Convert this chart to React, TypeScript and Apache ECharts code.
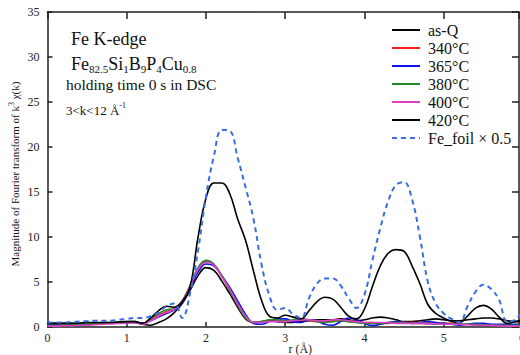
import React, { useEffect, useRef } from "react";
import * as echarts from "echarts";

const rValues = Array.from({ length: 61 }, (_, i) => +(i / 10).toFixed(1));

const asQ = [0.4, 0.4, 0.4, 0.4, 0.35, 0.35, 0.4, 0.45, 0.5, 0.5, 0.5, 0.5, 0.3, 0.2, 0.5, 0.9, 1.6, 2.6, 4.1, 5.7, 6.6, 6.3, 5.1, 3.7, 2.2, 0.9, 0.5, 0.6, 0.7, 0.6, 0.5, 0.5, 0.6, 0.7, 0.8, 0.8, 0.8, 0.9, 0.8, 0.7, 0.8, 1.0, 1.1, 1.0, 0.8, 0.6, 0.6, 0.7, 0.8, 0.9, 0.8, 0.7, 0.7, 0.8, 0.9, 1.0, 1.0, 0.9, 0.7, 0.6, 0.6];
const t340 = [0.15, 0.15, 0.2, 0.2, 0.25, 0.3, 0.35, 0.4, 0.45, 0.5, 0.55, 0.6, 0.35, 0.8, 1.3, 1.7, 2.0, 2.9, 4.6, 6.5, 7.3, 6.9, 5.6, 4.1, 2.5, 1.1, 0.5, 0.6, 0.7, 0.7, 0.6, 0.7, 0.8, 0.7, 0.6, 0.6, 0.7, 0.7, 0.6, 0.5, 0.5, 0.5, 0.4, 0.4, 0.5, 0.5, 0.5, 0.5, 0.4, 0.4, 0.4, 0.4, 0.35, 0.3, 0.3, 0.3, 0.25, 0.2, 0.2, 0.15, 0.1];
const t365 = [0.3, 0.3, 0.3, 0.3, 0.3, 0.35, 0.4, 0.45, 0.45, 0.5, 0.5, 0.5, 0.4, 0.7, 1.1, 1.5, 1.9, 2.7, 4.3, 6.1, 7.0, 6.8, 5.7, 4.4, 2.9, 1.4, 0.4, 0.3, 0.6, 0.9, 0.9, 0.6, 0.5, 0.8, 0.7, 0.3, 0.2, 0.6, 1.0, 0.8, 0.4, 0.15, 0.3, 0.5, 0.6, 0.5, 0.4, 0.5, 0.6, 0.5, 0.4, 0.3, 0.2, 0.3, 0.4, 0.4, 0.3, 0.3, 0.3, 0.3, 0.3];
const t380 = [0.2, 0.2, 0.25, 0.3, 0.3, 0.35, 0.4, 0.45, 0.5, 0.55, 0.6, 0.6, 0.4, 0.9, 1.5, 1.9, 2.1, 2.9, 4.6, 6.6, 7.4, 7.0, 5.7, 4.1, 2.4, 1.0, 0.5, 0.6, 0.8, 0.8, 0.7, 0.8, 0.9, 0.8, 0.6, 0.5, 0.6, 0.7, 0.6, 0.5, 0.4, 0.4, 0.4, 0.5, 0.5, 0.5, 0.4, 0.4, 0.4, 0.3, 0.3, 0.3, 0.3, 0.3, 0.3, 0.25, 0.2, 0.2, 0.2, 0.2, 0.2];
const t400 = [0.1, 0.1, 0.15, 0.15, 0.2, 0.2, 0.25, 0.3, 0.35, 0.4, 0.45, 0.5, 0.3, 0.7, 1.2, 1.6, 2.0, 2.8, 4.5, 6.4, 7.2, 6.9, 5.6, 4.2, 2.6, 1.2, 0.5, 0.5, 0.6, 0.6, 0.6, 0.7, 0.8, 0.8, 0.7, 0.7, 0.8, 0.8, 0.7, 0.6, 0.5, 0.5, 0.5, 0.5, 0.4, 0.4, 0.4, 0.4, 0.35, 0.35, 0.3, 0.3, 0.3, 0.25, 0.2, 0.2, 0.2, 0.15, 0.1, 0.1, 0.05];
const t420 = [0.4, 0.4, 0.4, 0.4, 0.45, 0.5, 0.5, 0.5, 0.5, 0.55, 0.6, 0.6, 0.4, 1.0, 1.8, 2.3, 2.2, 2.8, 4.5, 10.0, 14.3, 16.0, 16.0, 14.8, 12.0, 9.6, 6.2, 3.0, 1.2, 1.0, 1.3, 1.1, 0.9, 1.8, 2.8, 3.3, 3.1, 2.2, 1.2, 0.9, 2.0, 4.5, 6.8, 8.2, 8.6, 8.4, 6.8, 4.8, 2.5, 1.5, 1.0, 0.6, 0.5, 1.2, 2.1, 2.4, 2.0, 1.1, 0.4, 0.6, 0.8];
const feFoilHalf = [0.5, 0.5, 0.5, 0.55, 0.6, 0.65, 0.7, 0.7, 0.7, 0.8, 0.9, 1.0, 1.0, 1.2, 1.6, 2.3, 2.6, 1.0, 3.8, 8.5, 14.5, 19.0, 21.9, 21.8, 18.8, 15.5, 12.0, 7.0, 3.5, 1.9, 2.1, 1.4, 1.0, 3.2, 4.8, 5.4, 5.4, 4.6, 3.2, 2.1, 3.6, 7.4, 11.0, 14.0, 15.8, 16.1, 14.2, 10.0, 5.0, 2.6, 1.5, 0.9, 0.5, 2.3, 3.9, 4.7, 4.2, 3.0, 0.6, 0.8, 1.8];

const seriesNames = ["as-Q", "340°C", "365°C", "380°C", "400°C", "420°C", "Fe_foil × 0.5"];
const seriesColors = ["#000000", "#ff1f1f", "#1010ee", "#1e8a2a", "#e040c8", "#000000", "#3a6ee0"];
const seriesData = [asQ, t340, t365, t380, t400, t420, feFoilHalf];

const yTicks = [0, 5, 10, 15, 20, 25, 30, 35];
const xTicks = [0, 1, 2, 3, 4, 5, 6];

const SERIF = "Liberation Serif, serif";

export default function App() {
  const ref = useRef<HTMLDivElement>(null);
  useEffect(() => {
    if (!ref.current) return;
    const chart = echarts.init(ref.current, undefined, { renderer: "svg" });
    const axisLine = { show: true, lineStyle: { color: "#222", width: 1.5 } };
    const series = seriesNames.map((name, i) => ({
      name,
      type: "line",
      xAxisIndex: 0,
      yAxisIndex: 0,
      showSymbol: false,
      symbol: "none",
      smooth: 0.4,
      data: rValues.map((r, j) => [r, seriesData[i][j]]),
      lineStyle: {
        color: seriesColors[i],
        width: i === 6 ? 2 : 1.6,
        type: i === 6 ? [5, 4] : "solid",
      },
      itemStyle: { color: seriesColors[i] },
      z: i === 6 ? 3 : 2,
    }));
    chart.setOption({
      animation: false,
      backgroundColor: "#ffffff",
      grid: { left: 47.5, right: 1, top: 12, bottom: 28, containLabel: false, outerBoundsMode: "none" },
      xAxis: [
        {
          type: "value",
          min: xTicks[0],
          max: 5.95,
          interval: 1,
          position: "bottom",
          axisLine: { ...axisLine, onZero: false },
          axisTick: { show: true, inside: true, length: 5, lineStyle: { color: "#222", width: 1.5 } },
          axisLabel: { show: true, showMaxLabel: false, margin: 5, fontFamily: SERIF, fontSize: 12, color: "#222" },
          splitLine: { show: false },
          name: "r (Å)",
          nameLocation: "middle",
          nameGap: 16,
          nameMoveOverlap: false,
          nameTextStyle: { fontFamily: SERIF, fontSize: 12, color: "#222", padding: [0, 0, 0, 34], lineHeight: 12 },
        },
        {
          type: "value",
          min: xTicks[0],
          max: 5.95,
          interval: 1,
          position: "top",
          axisLine: { ...axisLine, onZero: false },
          axisTick: { show: true, inside: true, length: 7, lineStyle: { color: "#222", width: 1.5 } },
          axisLabel: { show: false },
          splitLine: { show: false },
        },
      ],
      yAxis: [
        {
          type: "value",
          min: yTicks[0],
          max: yTicks[yTicks.length - 1],
          interval: 5,
          position: "left",
          axisLine: { ...axisLine, onZero: false },
          axisTick: { show: true, inside: true, length: 5, lineStyle: { color: "#222", width: 1.5 } },
          axisLabel: { show: true, margin: 8, fontFamily: SERIF, fontSize: 12, color: "#222" },
          splitLine: { show: false },
        },
        {
          type: "value",
          min: yTicks[0],
          max: yTicks[yTicks.length - 1],
          interval: 5,
          position: "right",
          axisLine: { ...axisLine, onZero: false },
          axisTick: { show: true, inside: true, length: 7, lineStyle: { color: "#222", width: 1.5 } },
          axisLabel: { show: false },
          splitLine: { show: false },
        },
      ],
      legend: {
        orient: "vertical",
        left: 386,
        top: 17,
        itemWidth: 28,
        itemHeight: 14,
        itemGap: 2,
        data: seriesNames,
        itemStyle: { opacity: 0 },
        textStyle: { fontFamily: SERIF, fontSize: 16, color: "#111", padding: [0, 0, 0, 3] },
      },
      series,
      graphic: [
        {
          type: "text",
          x: 71,
          y: 39,
          style: { text: "Fe K-edge", font: `18px ${SERIF}`, fill: "#111", textAlign: "left", textVerticalAlign: "middle" },
        },
        {
          type: "text",
          x: 71,
          y: 64,
          style: {
            text: "{m|Fe}{s|82.5}{m|Si}{s|1}{m|B}{s|9}{m|P}{s|4}{m|Cu}{s|0.8}",
            textAlign: "left",
            textVerticalAlign: "middle",
            fill: "#111",
            rich: {
              m: { fontFamily: SERIF, fontSize: 18, fill: "#111", lineHeight: 22 },
              s: { fontFamily: SERIF, fontSize: 11, fill: "#111", verticalAlign: "bottom", padding: [0, 0, 1, 0] },
            },
          },
        },
        {
          type: "text",
          x: 66,
          y: 84,
          style: { text: "holding time 0 s in DSC", font: `15.5px ${SERIF}`, fill: "#111", textAlign: "left", textVerticalAlign: "middle" },
        },
        {
          type: "text",
          x: 66,
          y: 110,
          style: {
            text: "{m|3<k<12 Å}{p|-1}",
            textAlign: "left",
            textVerticalAlign: "middle",
            fill: "#111",
            rich: {
              m: { fontFamily: SERIF, fontSize: 13, fill: "#111", lineHeight: 18 },
              p: { fontFamily: SERIF, fontSize: 8, fill: "#111", verticalAlign: "top" },
            },
          },
        },
        {
          type: "text",
          x: 15,
          y: 174,
          rotation: Math.PI / 2,
          style: {
            text: "{m|Magnitude of Fourier transform of k}{p|3}{m| χ(k)}",
            textAlign: "center",
            textVerticalAlign: "middle",
            fill: "#111",
            rich: {
              m: { fontFamily: SERIF, fontSize: 11, fill: "#111", lineHeight: 16 },
              p: { fontFamily: SERIF, fontSize: 8, fill: "#111", verticalAlign: "top" },
            },
          },
        },
        {
          type: "text",
          x: 522,
          y: 338,
          style: { text: String(xTicks[6]), font: `12px ${SERIF}`, fill: "#222", textAlign: "center", textVerticalAlign: "middle" },
        },
      ],
    });
    return () => chart.dispose();
  }, []);
  return <div ref={ref} style={{ position: "fixed", left: 0, top: 0, width: 520, height: 355 }} />;
}
